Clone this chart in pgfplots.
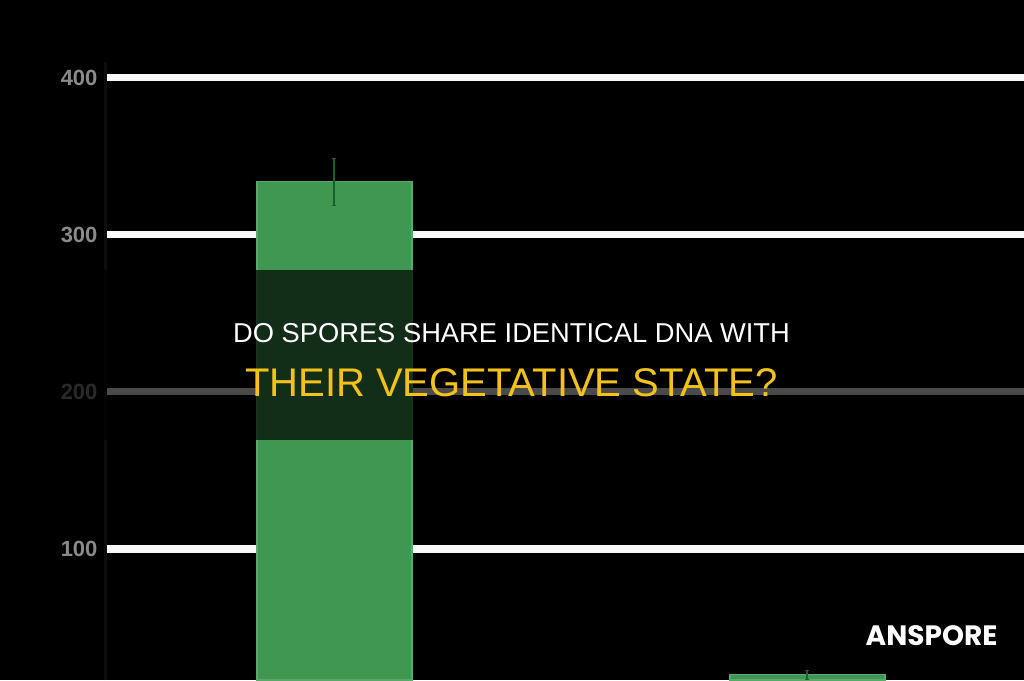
\documentclass[border=0pt]{standalone}
\usepackage{pgfplots}
\pgfplotsset{compat=1.18}
\usepackage{fontspec}
\setmainfont{Liberation Sans}
\newfontfamily\brand{Poppins}
\definecolor{bargreen}{HTML}{3F9752}
\definecolor{errgreen}{HTML}{1E5E2C}
\definecolor{titleyellow}{HTML}{F2C21B}
\definecolor{ticklab}{HTML}{8A8A8A}
\begin{document}
\begin{tikzpicture}
\fill[black] (0pt,0pt) rectangle (1024pt,680pt);
\useasboundingbox (0pt,0pt) rectangle (1024pt,680pt);
\begin{axis}[
  at={(105pt,0pt)}, anchor=south west, scale only axis,
  width=919pt, height=617.7pt,
  xmin=-0.485, xmax=1.458, ymin=16.56, ymax=410,
  ybar, bar width=0.328,
  ytick={100,200,300,400}, xtick=\empty,
  ymajorgrids, grid style={line width=7pt, color=white!95!gray},
  axis x line=none, axis y line*=left,
  y axis line style={color=black!95!white, line width=3pt, -},
  major tick length=0pt,
  yticklabel style={font=\bfseries\fontsize{22}{22}\selectfont, text=ticklab, xshift=-4pt},
  /pgf/number format/assume math mode=true,
]
\addplot[fill=bargreen, draw=bargreen!85!white, line width=1.5pt,
  error bars/.cd, y dir=both, y explicit,
  error bar style={line width=2pt, color=errgreen}]
  coordinates {(0,334) +- (0,15) (1,20) +- (0,3)};
\end{axis}
\fill[black, opacity=0.7] (0pt,240pt) rectangle (1024pt,410pt);
\node[anchor=base, text=white, font=\fontsize{27.3}{27.3}\selectfont, inner sep=0pt] at (511.5pt,337pt) {DO SPORES SHARE IDENTICAL DNA WITH};
\node[anchor=base, text=titleyellow, font=\fontsize{40}{40}\selectfont, inner sep=0pt] at (511.5pt,283pt) {THEIR VEGETATIVE STATE?};
\node[anchor=base, text=white, font=\brand\bfseries\fontsize{28}{28}\selectfont, inner sep=0pt] at (931.5pt,35pt) {ANSPORE};
\end{tikzpicture}
\end{document}
